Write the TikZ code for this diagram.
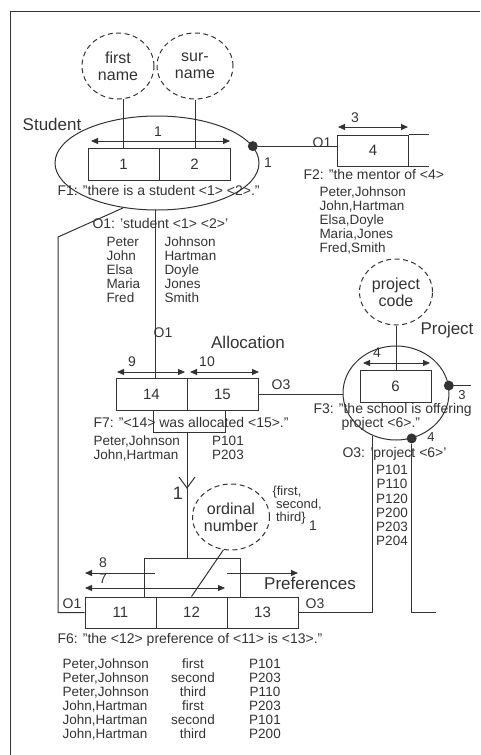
\documentclass[tikz,border=0pt]{standalone}
\usepackage{fontspec}
\setmainfont{Liberation Sans}
\usetikzlibrary{arrows.meta,shapes.geometric}
\definecolor{ink}{HTML}{333333}
\begin{document}
\begin{tikzpicture}[x=1pt,y=-1pt,line width=1pt,color=ink,
  attr/.style={ellipse,draw,dash pattern=on 5pt off 3.5pt,align=center,inner sep=0pt,font=\fontsize{16}{17}\selectfont},
  rolebox/.style={draw,minimum width=71pt,minimum height=32pt,inner sep=0pt,font=\fontsize{15}{16}\selectfont},
  txt/.style={inner sep=0pt,font=\fontsize{14}{15}\selectfont},
  datatxt/.style={inner sep=0pt,align=left,font=\fontsize{13.5}{14}\selectfont},
  datac/.style={inner sep=0pt,align=center,font=\fontsize{13.5}{14}\selectfont},
  lbl/.style={inner sep=0pt,font=\fontsize{14}{14}\selectfont},
  biglbl/.style={inner sep=0pt,font=\fontsize{17}{18}\selectfont},
  blackdot/.style={circle,fill,inner sep=0pt,minimum size=10pt},
  dbl/.style={{Triangle[length=7pt,width=6pt]}-{Triangle[length=7pt,width=6pt]}},
  sgl/.style={-{Triangle[length=7pt,width=6pt]}}]
\useasboundingbox (0,0) rectangle (480,755);
\draw (10,755) -- (10,11) -- (480,11);

% Student
\node[biglbl] (lstu) at (52,124) {Student};
\node[attr,minimum width=72pt,minimum height=66pt] (fn) at (118,66) {first\\name};
\node[attr,minimum width=76pt,minimum height=66pt] (sn) at (195,66) {sur-\\name};
\node[ellipse,draw,minimum width=204pt,minimum height=94pt] (stu) at (157,163) {};
\node[rolebox] (r1) at (123.5,164) {1};
\node[rolebox] (r2) at (194.5,164) {2};
\draw[dbl] (91,141) -- (230,141);
\node[lbl] at (158,132) {1};
\node[txt,anchor=west] (f1) at (57,190) {F1: "there is a student <1> <2>."};
\node[blackdot] (d1) at (stu.10) {};
\node[txt,anchor=west] (o1) at (92,223) {O1: 'student <1> <2>'};
\node[datatxt,anchor=west] at (106,270) {Peter\\John\\Elsa\\Maria\\Fred};
\node[datatxt,anchor=west] at (164,270) {Johnson\\Hartman\\Doyle\\Jones\\Smith};
\node[lbl] at (163,333) {O1};

% Mentor
\node[rolebox,minimum height=31pt] (r4) at (373,150.5) {4};
\draw[dbl] (338,127) -- (408,127);
\node[lbl] at (355,118) {3};
\node[lbl] at (322,143) {O1};
\node[lbl] at (268,163) {1};
\node[txt,anchor=west] at (303,174) {F2: "the mentor of <4>};
\node[datatxt,anchor=west] at (319,220) {Peter,Johnson\\John,Hartman\\Elsa,Doyle\\Maria,Jones\\Fred,Smith};

% Allocation
\node[biglbl] at (248,342) {Allocation};
\draw[dbl] (117,372) -- (185,372); \node[lbl] at (132,362) {9};
\draw[dbl] (190,372) -- (259,372); \node[lbl] at (207,362) {10};
\node[rolebox] (r14) at (151.5,394) {14};
\node[rolebox] (r15) at (222.5,394) {15};
\node[draw,minimum width=72pt,minimum height=22pt,inner sep=0pt] (nest) at (189,421) {};
\node[txt,anchor=west] at (93,422) {F7: "<14> was allocated <15>."};
\node[datatxt,anchor=west] at (93,448) {Peter,Johnson\\John,Hartman};
\node[datac] at (228,448) {P101\\P203};
\node[inner sep=0pt,font=\fontsize{18}{18}\selectfont] at (178,493) {1};

% Project
\node[attr,minimum width=73pt,minimum height=66pt] (pc) at (396,292) {project\\code};
\node[biglbl] at (447,330) {Project};
\node[ellipse,draw,minimum width=106pt,minimum height=94pt] (proj) at (396,393) {};
\node[rolebox] (r6) at (395.5,386) {6};
\draw[dbl] (363,363) -- (430,363); \node[lbl] at (377,353) {4};
\node[blackdot] (d3) at (proj.8) {};
\node[blackdot] (d4) at (proj.-71) {};
\node[lbl,font=\fontsize{13}{13}\selectfont] at (462,395) {3};
\node[lbl,font=\fontsize{13}{13}\selectfont] at (431,437) {4};
\node[lbl] at (281,385) {O3};
\node[txt,anchor=west] at (313,410) {F3: "the school is offering};
\node[txt,anchor=west] at (341,424) {project <6>."};
\node[txt,anchor=west] at (342,454) {O3: 'project <6>'};
\node[datac,font=\fontsize{13.5}{14.2}\selectfont] at (392,505.5) {P101\\P110\\P120\\P200\\P203\\P204};
\node[lbl] at (315,604) {O3};

% Preferences
\node[attr,minimum width=77pt,minimum height=66pt] (ord) at (231,517) {ordinal\\number};
\node[datatxt,anchor=west,font=\fontsize{13}{13}\selectfont] at (272,505) {\{first,\\\ second,\\\ third\}};
\node[lbl] at (313,526) {1};
\node[draw,minimum width=96pt,minimum height=39pt,inner sep=0pt] (rtop) at (192,577.5) {};
\draw[sgl] (155,573) -- (85,573); \node[lbl] at (103,563) {8};
\draw[sgl] (227,573) -- (298,573);
\draw[dbl] (85,588) -- (225,588); \node[lbl] at (103,579) {7};
\node[biglbl] at (310,583) {Preferences};
\node[rolebox,minimum height=31pt] (r11) at (120.5,612.5) {11};
\node[rolebox,minimum height=31pt] (r12) at (191.5,612.5) {12};
\node[rolebox,minimum height=31pt] (r13) at (262.5,612.5) {13};
\node[lbl] at (72,604) {O1};
\node[txt,anchor=west] at (57,640) {F6: "the <12> preference of <11> is <13>."};
\node[datatxt,anchor=west] at (62,699) {Peter,Johnson\\Peter,Johnson\\Peter,Johnson\\John,Hartman\\John,Hartman\\John,Hartman};
\node[datac] at (193,699) {first\\second\\third\\first\\second\\third};
\node[datac] at (265,699) {P101\\P203\\P110\\P203\\P101\\P200};

% connectors
\draw (fn.-80) -- (fn.-80 |- r1.north);
\draw (sn.south) -- (sn.south |- r2.north);
\draw (d1) -- (d1 -| r4.west);
\draw (r4.north east) -- ++(20,0);
\draw (r4.south east) -- ++(20,0);
\coordinate (c1) at (58,237);
\draw (stu.233) -- (c1) -- (c1 |- r11.west) -- (r11.west);
\draw (stu.268) -- (stu.268 |- r14.north);
\draw (nest.south -| r14.east) -- (r14.east |- rtop.north);
\draw (179,477) -- (187,488) -- (195,477);
\draw (pc.south) -- (pc.south |- r6.north);
\draw (d3) -- ++(22,0);
\draw (r15.east) -- (r15.east -| proj.west);
\draw (proj.241) -- (proj.241 |- r13.east) -- (r13.east);
\draw (d4) -- (d4 |- r13.east) -- ++(24,0);
\draw (r12.north) -- (ord.-103);
\end{tikzpicture}
\end{document}
